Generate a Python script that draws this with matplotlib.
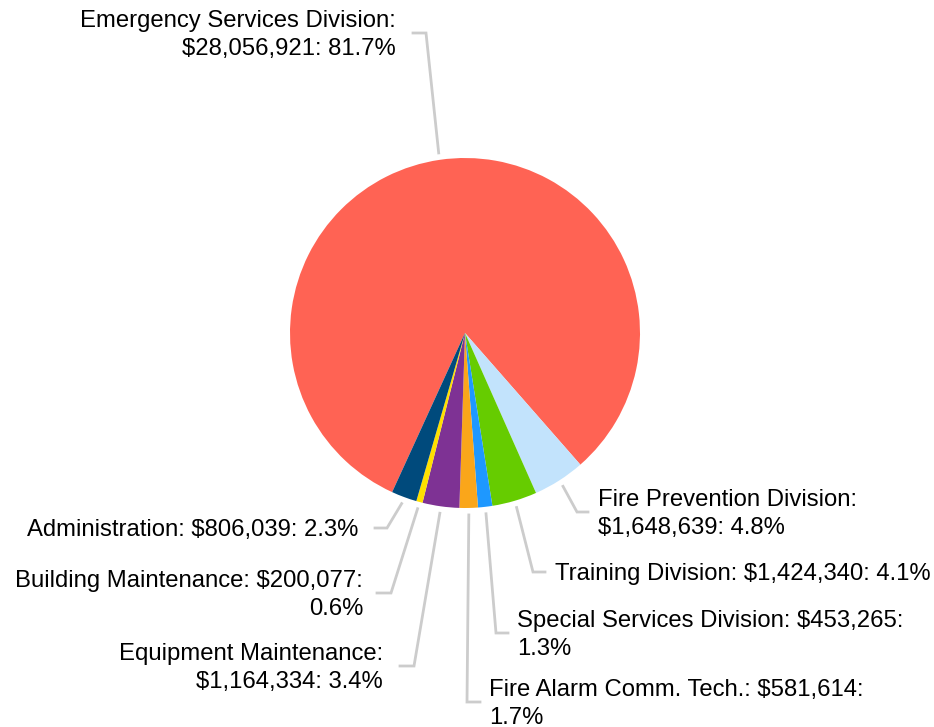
import numpy as np
import matplotlib.pyplot as plt

plt.rcParams['font.family'] = ['Liberation Sans', 'DejaVu Sans']

# data, in drawing order (clockwise)
divisions = ["Emergency Services Division", "Fire Prevention Division", "Training Division",
             "Special Services Division", "Fire Alarm Comm. Tech.", "Equipment Maintenance",
             "Building Maintenance", "Administration"]
budget = [28056921, 1648639, 1424340, 453265, 581614, 1164334, 200077, 806039]
colors = ["#FF6354", "#C2E3FC", "#66CC00", "#1E98FF", "#FAA61A", "#7E3294", "#FFE000", "#004A7C"]

# label layout (pixel coords, y from top): elbow x, elbow y, line end x, text x, align, line break
label_layout = [
    (426, 33, 413, 396, "right", "Emergency Services Division:\n"),
    (577, 512, 588, 598, "left", "Fire Prevention Division:\n"),
    (533, 572, 545, 555, "left", "Training Division: "),
    (496, 633, 508, 517, "left", "Special Services Division: $453,265:\n"),
    (467, 702, 480, 489, "left", "Fire Alarm Comm. Tech.: $581,614:\n"),
    (414, 666, 400, 383, "right", "Equipment Maintenance:\n"),
    (391, 593, 377, 363, "right", "Building Maintenance: $200,077:\n"),
    (387, 528, 375, 358, "right", "Administration: "),
]

W, H = 934, 727
fig = plt.figure(figsize=(W / 100, H / 100), dpi=100)
ax = fig.add_axes([0, 0, 1, 1])

cx, cy, r = 465, H - 333, 175
start = 245.4
wedges, _ = ax.pie(budget, colors=colors, startangle=start, counterclock=False,
                   center=(cx, cy), radius=r, frame=True,
                   wedgeprops=dict(linewidth=0))
ax.set_xlim(0, W)
ax.set_ylim(0, H)
ax.axis("off")

total = sum(budget)
for w, val, lay in zip(wedges, budget, label_layout):
    ex, ey, lx, tx, ha, head = lay
    mid = np.deg2rad((w.theta1 + w.theta2) / 2)
    sx = cx + (r + 7) * np.cos(mid)
    sy = cy + (r + 7) * np.sin(mid)
    ax.plot([sx, ex, lx], [sy, H - ey, H - ey], color="#CCCCCC", lw=2,
            solid_joinstyle="miter", zorder=1)
    pct = 100 * val / total
    if head.startswith("Special") or head.startswith("Fire Alarm") or head.startswith("Building"):
        txt = head + f"{pct:.1f}%"
    else:
        txt = head + f"${val:,}: {pct:.1f}%"
    ax.text(tx, H - ey - 2, txt, ha=ha, va="center", multialignment=ha,
            fontsize=17.2, color="#000000", linespacing=1.3)

fig.savefig("out.png", dpi=100)
